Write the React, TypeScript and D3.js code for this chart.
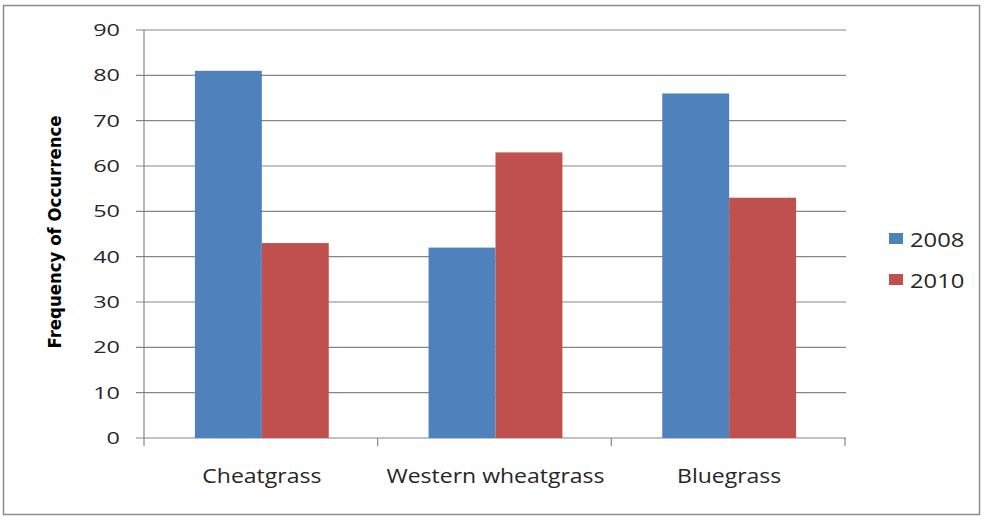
import React from "react";
import * as d3 from "d3";

const categories = ["Cheatgrass", "Western wheatgrass", "Bluegrass"];
const seriesNames = ["2008", "2010"];
const values2008 = [81, 42, 76];
const values2010 = [43, 63, 53];
const yTicks = [0, 10, 20, 30, 40, 50, 60, 70, 80, 90];
const yTitle = "Frequency of Occurrence";

const W = 985;
const H = 516;
const colors = ["#4F81BD", "#C0504D"];
const gridColor = "#868686";
const textColor = "#262626";
const font = "'Open Sans', 'DejaVu Sans', sans-serif";

export default function App() {
  const left = 145;
  const right = 846;
  const top = 30;
  const bottom = 438;

  const x = d3.scaleBand<string>().domain(categories).range([left, right]).paddingInner(0).paddingOuter(0);
  const inner = d3
    .scaleBand<string>()
    .domain(seriesNames)
    .range([0, x.bandwidth()])
    .paddingOuter(0.746)
    .paddingInner(0);
  const y = d3.scaleLinear().domain([0, 90]).range([bottom, top]);

  const series = [values2008, values2010];
  const catTicks = [...categories.map((c) => x(c) as number), right];

  return (
    <div style={{ position: "absolute", left: 0, top: 0, width: W, height: H, background: "#fff" }}>
      <svg width={W} height={H} style={{ display: "block" }}>
        <rect x={3.5} y={5.5} width={976} height={509} fill="#fff" stroke="#8c8c8c" strokeWidth={1.5} />
        {yTicks.map((t) => (
          <g key={t}>
            <line x1={left - 9} x2={right} y1={y(t)} y2={y(t)} stroke={gridColor} strokeWidth={1.2} />
            <g transform={`translate(120, ${y(t)}) scale(1.42, 1)`}>
              <text x={0} y={0} dy="0.36em" textAnchor="end" fontFamily={font} fontSize={16.5} fill={textColor}>
                {t}
              </text>
            </g>
          </g>
        ))}
        <line x1={left - 1} x2={left - 1} y1={top} y2={bottom} stroke={gridColor} strokeWidth={1.2} />
        {catTicks.map((cx, i) => (
          <line key={i} x1={cx - 1} x2={cx - 1} y1={bottom} y2={bottom + 8} stroke={gridColor} strokeWidth={1.2} />
        ))}
        {categories.map((c, ci) =>
          seriesNames.map((s, si) => {
            const v = series[si][ci];
            return (
              <rect
                key={c + s}
                x={(x(c) as number) + (inner(s) as number)}
                y={y(v)}
                width={inner.bandwidth()}
                height={y(0) - y(v)}
                fill={colors[si]}
              />
            );
          })
        )}
        {categories.map((c) => (
          <g key={c} transform={`translate(${(x(c) as number) + x.bandwidth() / 2}, 483) scale(1.15, 1)`}>
            <text x={0} y={0} textAnchor="middle" fontFamily={font} fontSize={20} fill={textColor}>
              {c}
            </text>
          </g>
        ))}
        <text
          transform={`translate(61, 232) rotate(-90)`}
          textAnchor="middle"
          fontFamily="'DejaVu Sans Condensed', 'DejaVu Sans', sans-serif"
          fontWeight="bold"
          fontSize={17}
          textLength={233}
          lengthAdjust="spacingAndGlyphs"
          fill="#000"
        >
          {yTitle}
        </text>
        {seriesNames.map((s, si) => (
          <g key={s} transform={`translate(889, ${247 + si * 41})`}>
            <rect x={0} y={-14} width={14} height={11} fill={colors[si]} />
            <g transform="translate(21, 0) scale(1.22, 1)">
              <text x={0} y={0} fontFamily={font} fontSize={19.5} fill={textColor}>
                {s}
              </text>
            </g>
          </g>
        ))}
      </svg>
    </div>
  );
}
